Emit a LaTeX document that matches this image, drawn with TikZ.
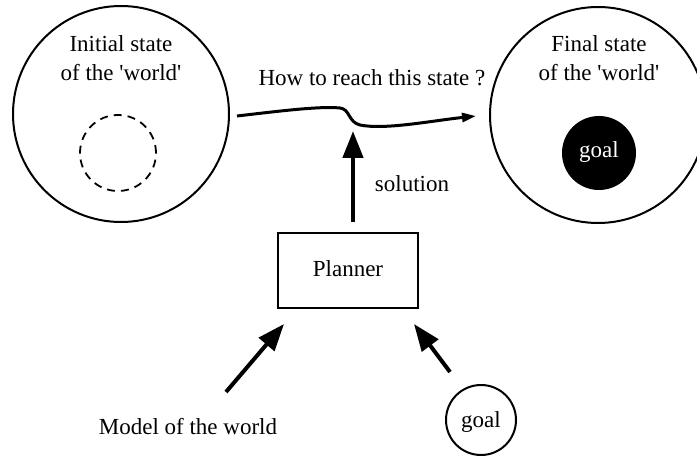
\documentclass[tikz,border=0pt]{standalone}
\usepackage{fontspec}
\setmainfont{Liberation Serif}[Ligatures=TeXOff]
\usetikzlibrary{arrows.meta}
\begin{document}
\begin{tikzpicture}[x=1pt,y=-1pt,
  lbl/.style={font=\fontsize{23}{29}\selectfont, inner sep=0pt, anchor=base},
  world/.style={circle, draw, line width=2pt, minimum size=216pt, inner sep=0pt},
  bigarrow/.style={line width=4.5pt, -{Triangle[length=27pt,width=20pt]}},
]
\useasboundingbox (0,0) rectangle (697,457);
% worlds
\node[world] (init) at (121,114) {};
\node[world] (final) at (598,115) {};
\node[lbl] (initA) at (121,52) {Initial state};
\node[lbl] (initB) at (121,81) {of the 'world'};
\node[lbl] (finA) at (599,52) {Final state};
\node[lbl] (finB) at (599,81) {of the 'world'};
\node[circle, draw, dash pattern=on 8pt off 6pt, line width=1.8pt, minimum size=76pt, inner sep=0pt] (cur) at (118,153) {};
\node[circle, fill=black, minimum size=74pt, inner sep=0pt] (goalF) at (599,153) {};
\node[lbl, text=white] (goalFT) at (599,158) {goal};
% question
\node[lbl] (how) at (372,86) {How to reach this state ?};
\coordinate (c1) at (237,116);
\coordinate (c2) at (476,116);
\draw[line width=3pt, -{Triangle[length=14pt,width=9pt]}] (c1) .. controls (280,111) and (320,106) .. (340,108) .. controls (350,109) and (348,122) .. (360,125) .. controls (385,130) and (430,121) .. (c2);
% planner
\node[draw, line width=2pt, minimum width=140pt, minimum height=75pt, inner sep=0pt] (planner) at (348,270.5) {};
\node[lbl] (plT) at (348,277) {Planner};
\coordinate (s1) at (353,222);
\coordinate (s2) at (353,131);
\draw[bigarrow] (s1) -- (s2);
\node[lbl] (sol) at (412,192) {solution};
% inputs
\node[lbl] (model) at (188,435) {Model of the world};
\node[circle, draw, line width=2pt, minimum size=70pt, inner sep=0pt] (goal) at (481,420) {};
\node[lbl] (goalT) at (481,428) {goal};
\coordinate (m1) at (226,392);
\coordinate (m2) at (284,324);
\coordinate (g1) at (450,372);
\coordinate (g2) at (414,324);
\draw[bigarrow, line width=4pt] (m1) -- (m2);
\draw[bigarrow, line width=4pt] (g1) -- (g2);
\end{tikzpicture}
\end{document}
